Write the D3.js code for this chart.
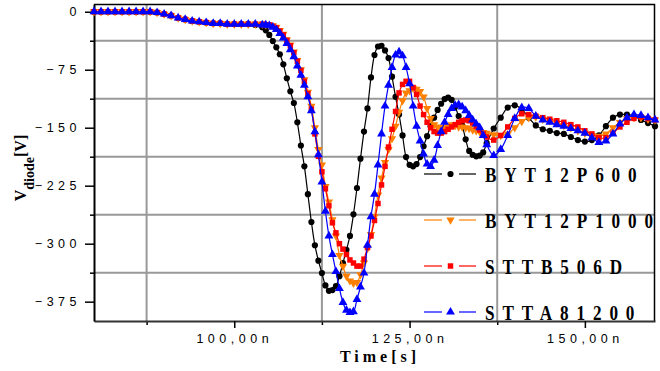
<!DOCTYPE html>
<html>
<head>
<meta charset="utf-8">
<script src="https://cdn.jsdelivr.net/npm/d3@7"></script>
<style>
  body { margin: 0; background: #fff; }
  svg { display: block; }
</style>
</head>
<body>
<div id="chart"></div>
<script>
// Data: sample times (ns) and diode voltage (V) per device
var times = d3.range(80, 104, 1)
  .concat(d3.range(104, 136.01, 0.5), d3.range(137, 160.01, 1));

var byt12p600 = [0, 0, 0, 0, 0, 0, 0, 0, 0, -1, -3, -5, -8, -10, -12, -13, -14, -15, -15, -16, -16, -16, -16, -17,
  -20, -24, -30, -38, -46, -55, -68, -86, -103, -118,
  -143, -173, -200, -236, -272, -302, -322, -338, -354, -361,
  -360, -355, -342, -325, -308, -290, -262, -228, -190, -155,
  -125, -85, -56, -45, -44, -50, -60, -84, -110, -133,
  -160, -188, -198, -200, -197, -188, -174, -161, -148, -137,
  -127, -119, -113, -111, -114, -123, -135, -147, -165, -180,
  -185, -187, -186, -182, -170,
  -151, -137, -124, -121, -126, -137, -147, -152, -154, -157,
  -158, -162, -166, -168, -166, -160, -148, -137, -133, -133,
  -135, -140, -144, -148];

var byt12p1000 = [0, 0, 0, 0, 0, 0, 0, 0, 0, -1, -3, -5, -8, -10, -12, -13, -14, -15, -15, -16, -16, -16, -16, -16,
  -16, -17, -17, -18, -20, -24, -29, -36, -43, -52,
  -63, -75, -88, -104, -122, -150, -178, -198, -226, -246,
  -269, -290, -315, -329, -342, -348, -351, -350, -340, -325,
  -306, -288, -265, -237, -215, -195, -178, -164, -148, -130,
  -115, -105, -102, -99, -100, -103, -110, -125, -138, -146,
  -149, -150, -150, -148, -146, -147, -149, -149, -150, -151,
  -153, -154, -155, -156, -157,
  -159, -160, -158, -150, -142, -137, -136, -139, -141, -144,
  -147, -150, -154, -157, -160, -161, -158, -150, -143, -138,
  -137, -137, -139, -140];

var sttb506d = [0, 0, 0, 0, 0, 0, 0, 0, 0, -1, -3, -5, -8, -10, -12, -13, -14, -15, -15, -16, -16, -16, -16, -16,
  -16, -17, -17, -19, -21, -25, -30, -37, -44, -53,
  -64, -76, -90, -106, -126, -158, -187, -207, -229, -251,
  -273, -286, -300, -307, -314, -321, -325, -329, -329, -320,
  -305, -290, -270, -248, -224, -200, -175, -152, -129, -105,
  -94, -90, -90, -98, -107, -122, -133, -143, -150, -155,
  -157, -157, -155, -152, -149, -146, -143, -141, -140, -141,
  -144, -148, -153, -158, -162,
  -166, -160, -149, -138, -132, -133, -135, -137, -139, -141,
  -143, -146, -149, -154, -158, -163, -163, -157, -149, -143,
  -138, -136, -138, -140];

var stta81200 = [0, 0, 0, 0, 0, 0, 0, 0, 0, -1, -3, -5, -8, -10, -12, -13, -14, -15, -15, -16, -16, -16, -16, -16,
  -17, -17, -18, -20, -23, -28, -34, -41, -49, -58,
  -70, -82, -95, -110, -128, -155, -185, -220, -258, -290,
  -314, -336, -358, -376, -386, -389, -388, -372, -356, -338,
  -302, -265, -236, -198, -158, -122, -95, -72, -56, -52,
  -57, -72, -93, -122, -148, -167, -184, -197, -200, -192,
  -173, -155, -143, -133, -125, -121, -120, -123, -128, -134,
  -140, -145, -150, -160, -172,
  -186, -178, -160, -138, -124, -125, -135, -140, -143, -146,
  -148, -151, -154, -157, -163, -169, -167, -158, -145, -137,
  -133, -134, -137, -140];

var seriesNames = ["BYT12P600", "BYT12P1000", "STTB506D", "STTA81200"];
var seriesValues = [byt12p600, byt12p1000, sttb506d, stta81200];

// Axis ticks and grid positions
var xTicks = [100, 125, 150];
var xTickLabels = ["100,00n", "125,00n", "150,00n"];
var yTicks = [0, -75, -150, -225, -300, -375];
var xGrid = [87.5, 112.5, 137.5];
var yGrid = [-37.5, -112.5, -187.5, -262.5, -337.5];

// Set up chart
var svgWidth = 660;
var svgHeight = 371;

var margin = {
  top: 4,
  right: 5,
  bottom: 50,
  left: 94
};

var width = svgWidth - margin.left - margin.right;
var height = svgHeight - margin.top - margin.bottom;

var svg = d3.select("#chart")
  .append("svg")
  .attr("width", svgWidth)
  .attr("height", svgHeight);

var chartGroup = svg.append("g")
  .attr("transform", `translate(${margin.left}, ${margin.top})`);

var xScale = d3.scaleLinear()
  .domain([80, 160])
  .range([0, width]);

var yScale = d3.scaleLinear()
  .domain([-400, 10])
  .range([height, 0]);

// Grid lines
chartGroup.selectAll(".vgrid")
  .data(xGrid)
  .enter()
  .append("line")
  .attr("x1", d => xScale(d))
  .attr("x2", d => xScale(d))
  .attr("y1", 0)
  .attr("y2", height)
  .attr("stroke", "#999")
  .attr("stroke-width", 2);

chartGroup.selectAll(".hgrid")
  .data(yGrid)
  .enter()
  .append("line")
  .attr("x1", 0)
  .attr("x2", width)
  .attr("y1", d => yScale(d))
  .attr("y2", d => yScale(d))
  .attr("stroke", "#999")
  .attr("stroke-width", 2);

// Top and right frame
chartGroup.append("path")
  .attr("d", `M0,0.5H${width - 0.5}V${height}`)
  .attr("fill", "none")
  .attr("stroke", "#000")
  .attr("stroke-width", 1.5);

// Minor ticks
chartGroup.append("g")
  .attr("transform", `translate(0, ${height})`)
  .call(d3.axisBottom(xScale).tickValues(xGrid).tickSize(4).tickFormat(""))
  .call(g => g.select(".domain").remove())
  .call(g => g.selectAll("line").attr("stroke-width", 1.5));

chartGroup.append("g")
  .call(d3.axisLeft(yScale).tickValues(yGrid).tickSize(4).tickFormat(""))
  .call(g => g.select(".domain").remove())
  .call(g => g.selectAll("line").attr("stroke-width", 1.5));

// Major axes
var bottomAxis = d3.axisBottom(xScale)
  .tickValues(xTicks)
  .tickSize(7)
  .tickSizeOuter(0)
  .tickPadding(6)
  .tickFormat((d, i) => xTickLabels[i]);

var leftAxis = d3.axisLeft(yScale)
  .tickValues(yTicks)
  .tickSize(9)
  .tickSizeOuter(0)
  .tickPadding(4);

chartGroup.append("g")
  .attr("transform", `translate(0, ${height})`)
  .call(bottomAxis)
  .call(g => g.select(".domain").attr("stroke", "#333").attr("stroke-width", 2))
  .call(g => g.selectAll("line").attr("stroke-width", 1.5))
  .call(g => g.selectAll("text")
    .style("font-family", "'Liberation Sans', Arial, sans-serif")
    .style("font-size", "12.5px")
    .style("letter-spacing", "4.5px")
    .attr("fill", "#000"));

chartGroup.append("g")
  .call(leftAxis)
  .call(g => g.select(".domain").attr("stroke", "#000").attr("stroke-width", 2))
  .call(g => g.selectAll("line").attr("stroke-width", 1.5))
  .call(g => g.selectAll("text")
    .style("font-family", "'Liberation Sans', Arial, sans-serif")
    .style("font-size", "12.5px")
    .style("letter-spacing", "4.5px")
    .attr("fill", "#000"));

// Series styles
var colors = ["#000000", "#ff8000", "#ff0000", "#0000ff"];
var symbolTypes = [d3.symbolCircle, d3.symbolTriangle, d3.symbolSquare, d3.symbolTriangle];
var symbolSizes = [30, 30, 30, 34];
var symbolRotate = [0, 180, 0, 0];

var line = d3.line()
  .x((d, i) => xScale(times[i]))
  .y(d => yScale(d))
  .curve(d3.curveCatmullRom);

seriesValues.forEach((vals, s) => {
  chartGroup.append("path")
    .datum(vals)
    .attr("d", line)
    .attr("fill", "none")
    .attr("stroke", colors[s])
    .attr("stroke-width", 1.2);

  chartGroup.selectAll(".m" + s)
    .data(vals)
    .enter()
    .append("path")
    .attr("class", "m" + s)
    .attr("d", d3.symbol().type(symbolTypes[s]).size(symbolSizes[s]))
    .attr("transform", (d, i) => `translate(${xScale(times[i])}, ${yScale(d)}) rotate(${symbolRotate[s]})`)
    .attr("fill", colors[s]);
});

// Legend
var legendY = [174, 220, 266, 312];

seriesNames.forEach((name, s) => {
  var g = svg.append("g")
    .attr("transform", `translate(424, ${legendY[s]})`);

  g.append("line")
    .attr("x1", 0).attr("x2", 18).attr("y1", 0).attr("y2", 0)
    .attr("stroke", colors[s]).attr("stroke-width", 1.2);
  g.append("line")
    .attr("x1", 35).attr("x2", 52).attr("y1", 0).attr("y2", 0)
    .attr("stroke", colors[s]).attr("stroke-width", 1.2);
  g.append("path")
    .attr("d", d3.symbol().type(symbolTypes[s]).size(symbolSizes[s]))
    .attr("transform", `translate(26.5, 0) rotate(${symbolRotate[s]})`)
    .attr("fill", colors[s]);

  g.append("text")
    .attr("transform", "translate(61, 8) scale(0.78, 1)")
    .style("font-family", "'Liberation Serif', 'Times New Roman', serif")
    .style("font-weight", "bold")
    .style("font-size", "22px")
    .style("letter-spacing", "10.1px")
    .text(name);
});

// Axis titles
svg.append("text")
  .attr("x", 380)
  .attr("y", 362)
  .attr("text-anchor", "middle")
  .style("font-family", "'Liberation Serif', 'Times New Roman', serif")
  .style("font-weight", "bold")
  .style("font-size", "16px")
  .style("letter-spacing", "4px")
  .text("Time[s]");

var yTitle = svg.append("text")
  .attr("transform", "translate(26, 168) rotate(-90)")
  .attr("text-anchor", "middle")
  .style("font-family", "'Liberation Serif', 'Times New Roman', serif")
  .style("font-weight", "bold")
  .style("font-size", "16px");

yTitle.append("tspan").text("V");
yTitle.append("tspan").attr("dy", 8).style("font-size", "14px").text("diode");
yTitle.append("tspan").attr("dy", -8).text("[V]");
</script>
</body>
</html>
